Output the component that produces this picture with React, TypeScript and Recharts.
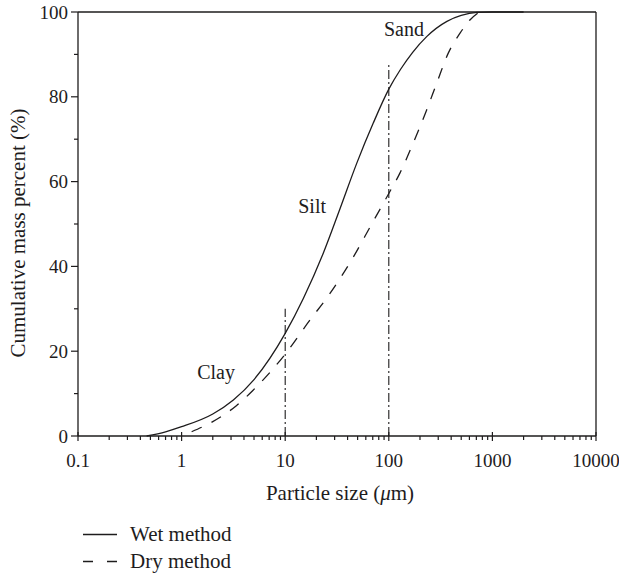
import React from 'react';
import { LineChart, Line, XAxis, YAxis, ReferenceLine, ReferenceDot, Legend } from 'recharts';

// ---- data ----
const wetSize = [0.46, 0.7, 1, 2, 3.16, 5, 10, 15, 23.3, 33.8, 49, 70.8, 100, 130, 170, 232, 364, 500, 710, 1000, 2000];
const wetPercent = [0, 1.0, 2.2, 5.2, 8.5, 13.3, 24.2, 32.5, 43.1, 53.6, 64.3, 73.8, 81.8, 86.5, 90.5, 94.2, 97.8, 99.2, 99.9, 100, 100];

const drySize = [1.25, 2, 3.4, 4.9, 10, 17.4, 25.1, 43.7, 68.4, 100, 128, 166, 232, 290, 375, 487, 600, 750];
const dryPercent = [1.0, 3.4, 7.2, 10.8, 19.3, 27.4, 32.5, 41.5, 50.0, 57.2, 62, 68.2, 76.9, 83.2, 90.3, 95, 98, 100];

const seriesNames = ['Wet method', 'Dry method'];

const xMajorTicks = [0.1, 1, 10, 100, 1000, 10000];
const xMajorLabels = ['0.1', '1', '10', '100', '1000', '10000'];
const xMinorMultipliers = [2, 3, 4, 5, 6, 7, 8, 9];

const yTicks = [0, 10, 20, 30, 40, 50, 60, 70, 80, 90, 100];
const yLabelled = [0, 20, 40, 60, 80, 100];

const zoneLabels = ['Clay', 'Silt', 'Sand'];
const zoneX = [2.15, 18.2, 140];
const zoneY = [15.1, 54.2, 96];

const boundarySizes = [10, 100];
const boundaryTops = [30, 88];

// ---- derived structures ----
const wetData = wetSize.map((x, i) => ({ x, y: wetPercent[i] }));
const dryData = drySize.map((x, i) => ({ x, y: dryPercent[i] }));

const xAllTicks: number[] = [];
xMajorTicks.forEach((m, i) => {
  xAllTicks.push(m);
  if (i < xMajorTicks.length - 1) {
    xMinorMultipliers.forEach((k) => xAllTicks.push(parseFloat((m * k).toPrecision(6))));
  }
});

const INK = '#1e1c1d';
const FONT = '"Liberation Serif", "Times New Roman", serif';

const XTick = (props: any) => {
  const { x, y, payload } = props;
  const v = payload.value;
  const idx = xMajorTicks.findIndex((m) => Math.abs(m - v) < 1e-9 * Math.max(1, m));
  const major = idx >= 0;
  return (
    <g>
      <line x1={x} x2={x} y1={major ? y - 4 : y} y2={major ? y + 5 : y + 4} stroke={INK} strokeWidth={1.2} />
      {major && (
        <text x={x} y={y + 24} textAnchor="middle" dominantBaseline="central" fontFamily={FONT} fontSize={19} fill={INK}>
          {xMajorLabels[idx]}
        </text>
      )}
    </g>
  );
};

const YTick = (props: any) => {
  const { x, y, payload } = props;
  const v = payload.value;
  const major = yLabelled.includes(v);
  return (
    <g>
      <line x1={major ? x - 7 : x - 4} x2={x} y1={y} y2={y} stroke={INK} strokeWidth={1.2} />
      {major && (
        <text x={x - 10} y={y} textAnchor="end" dominantBaseline="central" fontFamily={FONT} fontSize={19} fill={INK}>
          {String(v)}
        </text>
      )}
    </g>
  );
};

const YTitle = (props: any) => {
  const vb = props.viewBox || { x: 0, y: 12, width: 78, height: 424 };
  const cx = vb.x + 18;
  const cy = vb.y + vb.height / 2 + 9;
  return (
    <text x={cx} y={cy} transform={`rotate(-90 ${cx} ${cy})`} textAnchor="middle" dominantBaseline="central" fontFamily={FONT} fontSize={21} fill={INK}>
      Cumulative mass percent (%)
    </text>
  );
};

const XTitle = (props: any) => {
  const vb = props.viewBox || { x: 78, y: 436, width: 518, height: 80 };
  const cx = vb.x + vb.width / 2 + 3;
  const cy = vb.y + 57;
  return (
    <text x={cx} y={cy} textAnchor="middle" dominantBaseline="central" fontFamily={FONT} fontSize={21} fill={INK}>
      Particle size (<tspan fontStyle="italic">μ</tspan>m)
    </text>
  );
};

const LegendBox = () => (
  <div style={{ height: 60, position: 'relative', fontFamily: FONT, fontSize: 21, color: INK }}>
    {seriesNames.map((name, i) => (
      <div
        key={name}
        style={{ position: 'absolute', left: 83, top: 5 + i * 27, height: 27, display: 'flex', alignItems: 'center' }}
      >
        <svg width={34} height={27} style={{ display: 'block' }}>
          <line x1={0} x2={34} y1={13.5} y2={13.5} stroke={INK} strokeWidth={1.3} strokeDasharray={i === 1 ? '10 14' : undefined} />
        </svg>
        <span style={{ marginLeft: 13, lineHeight: '27px', whiteSpace: 'nowrap' }}>{name}</span>
      </div>
    ))}
  </div>
);

export default function App() {
  return (
    <div style={{ position: 'absolute', left: 0, top: 0, width: 619, height: 576, background: '#fff' }}>
      <LineChart width={619} height={576} margin={{ top: 12, right: 23, bottom: 0, left: 0 }}>
        <XAxis
          dataKey="x"
          type="number"
          scale="log"
          domain={[0.1, 10000]}
          allowDataOverflow
          ticks={xAllTicks}
          interval={0}
          tick={<XTick />}
          tickLine={false}
          tickSize={0}
          tickMargin={0}
          height={80}
          axisLine={{ stroke: INK, strokeWidth: 1.3 }}
          label={<XTitle />}
        />
        <YAxis
          type="number"
          domain={[0, 100]}
          ticks={yTicks}
          interval={0}
          tick={<YTick />}
          tickLine={false}
          tickSize={0}
          tickMargin={0}
          width={78}
          axisLine={{ stroke: INK, strokeWidth: 1.3 }}
          label={<YTitle />}
        />
        <ReferenceLine y={100} stroke={INK} strokeWidth={1.3} />
        <ReferenceLine x={10000} stroke={INK} strokeWidth={1.3} />
        {boundarySizes.map((b, i) => (
          <ReferenceLine
            key={b}
            segment={[{ x: b, y: 0 }, { x: b, y: boundaryTops[i] }]}
            stroke={INK}
            strokeWidth={1.1}
            strokeDasharray="9 3 2 3"
          />
        ))}
        {zoneLabels.map((t, i) => (
          <ReferenceDot
            key={t}
            x={zoneX[i]}
            y={zoneY[i]}
            r={0}
            fill="none"
            stroke="none"
            label={{ value: t, position: 'center', fontSize: 20, fill: INK, fontFamily: FONT }}
          />
        ))}
        <Line
          data={wetData}
          dataKey="y"
          name={seriesNames[0]}
          type="monotone"
          stroke={INK}
          strokeWidth={1.3}
          dot={false}
          activeDot={false}
          isAnimationActive={false}
        />
        <Line
          data={dryData}
          dataKey="y"
          name={seriesNames[1]}
          type="monotone"
          stroke={INK}
          strokeWidth={1.3}
          strokeDasharray="11 11"
          dot={false}
          activeDot={false}
          isAnimationActive={false}
        />
        <Legend
          verticalAlign="bottom"
          align="left"
          content={<LegendBox />}
          wrapperStyle={{ left: 0, bottom: 0, width: 619, height: 60, margin: 0, padding: 0 }}
        />
      </LineChart>
    </div>
  );
}
